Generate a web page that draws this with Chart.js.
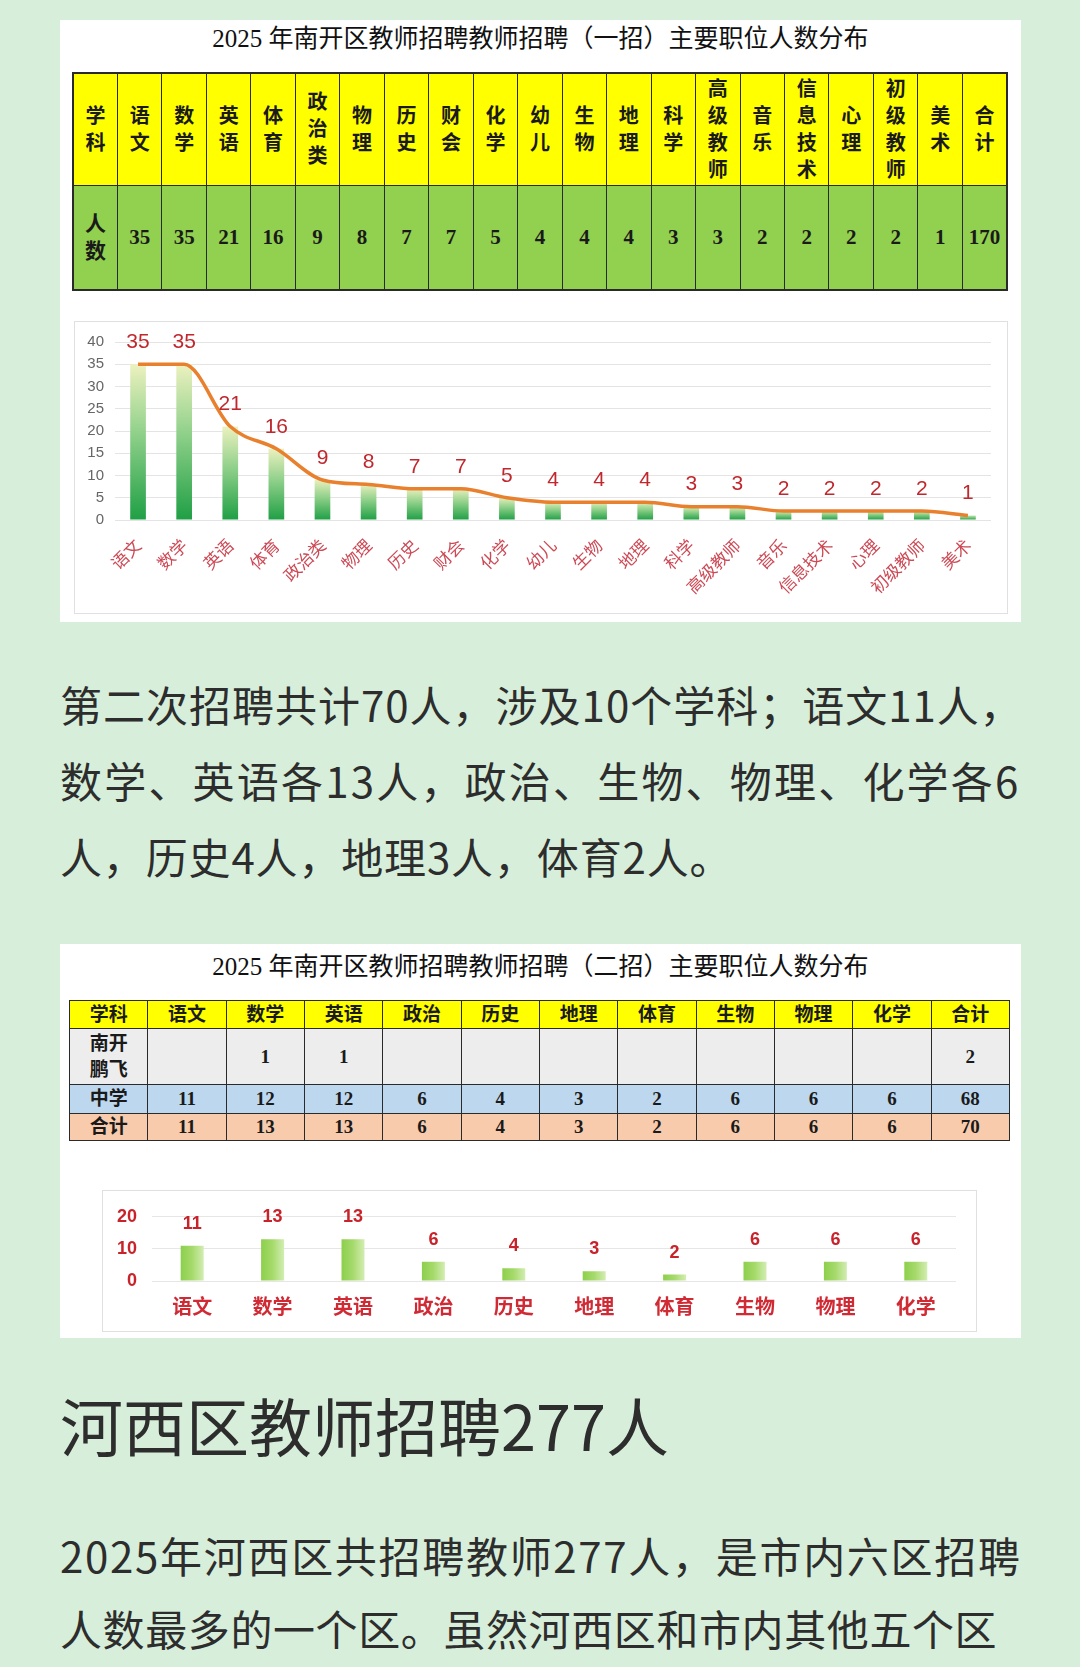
<!DOCTYPE html>
<html lang="zh-CN">
<head>
<meta charset="utf-8">
<title>南开区教师招聘职位分布</title>
<script src="https://cdn.jsdelivr.net/npm/chart.js@4.4.1/dist/chart.umd.min.js"></script>
<style>
  html, body { margin: 0; padding: 0; }
  body {
    width: 1080px; height: 1667px; position: relative; overflow: hidden;
    background: #d7efda; font-family: "Noto Sans CJK SC", sans-serif;
  }
  .panel { position: absolute; left: 60px; width: 961px; background: #fff; }
  .ptitle {
    position: absolute; left: 60px; width: 961px; text-align: center;
    font-family: "Liberation Serif", "Noto Sans CJK SC", serif;
    font-size: 25px; line-height: 30px; color: #111; white-space: nowrap;
  }
  table {
    position: absolute; border-collapse: collapse; table-layout: fixed;
    font-family: "Liberation Serif", "Noto Sans CJK SC", serif;
    font-weight: bold; color: #1a1a1a;
  }
  td { border: 1px solid #2a2a2a; text-align: center; padding: 0; overflow: hidden; }
  #tbl1 { left: 72px; top: 72px; width: 936px; border: 2px solid #2a2a2a; }
  #tbl1 td { font-size: 20px; line-height: 27px; }
  #tbl1 tr.head td { background: #ffff00; height: 111px; }
  #tbl1 tr.num td { background: #92d050; height: 103px; font-size: 21px; }
  #tbl2 { left: 69px; top: 1000px; width: 941px; border: 1.5px solid #2a2a2a; }
  #tbl2 td { font-size: 19px; line-height: 26px; }
  #tbl2 tr.head td { background: #ffff00; height: 27px; }
  #tbl2 tr.pf td { background: #ededed; height: 55px; }
  #tbl2 tr.zx td { background: #bdd7ee; height: 28px; }
  #tbl2 tr.hj td { background: #f8cbad; height: 26px; }
  .chartbox { position: absolute; background: #fff; border: 1px solid #e0e0e0; box-sizing: border-box; }
  .chartbox canvas { position: absolute; left: 0; top: 0; }
  .line {
    position: absolute; left: 60px; color: #2d2d2d; white-space: nowrap;
    font-family: "Noto Sans CJK SC", sans-serif; font-size: 42px; line-height: 76px;
  }
</style>
</head>
<body>

<div class="panel" style="top:20px;height:602px;"></div>
<div class="panel" style="top:944px;height:394px;"></div>

<div class="ptitle" style="top:24px;">2025 年南开区教师招聘教师招聘（一招）主要职位人数分布</div>
<table id="tbl1"></table>

<div class="chartbox" style="left:74px;top:321px;width:934px;height:293px;">
  <canvas id="chart1" width="932" height="291"></canvas>
</div>

<div class="line" style="top:666px;letter-spacing:1px;">第二次招聘共计70人，涉及10个学科；语文11人，</div>
<div class="line" style="top:742px;letter-spacing:2.2px;">数学、英语各13人，政治、生物、物理、化学各6</div>
<div class="line" style="top:818px;letter-spacing:0.85px;">人，历史4人，地理3人，体育2人。</div>

<div class="ptitle" style="top:952px;">2025 年南开区教师招聘教师招聘（二招）主要职位人数分布</div>
<table id="tbl2"></table>

<div class="chartbox" style="left:102px;top:1190px;width:875px;height:142px;">
  <canvas id="chart2" width="873" height="140"></canvas>
</div>

<div class="line" style="top:1384px;font-size:63px;line-height:80px;">河西区教师招聘277人</div>

<div class="line" style="top:1517px;letter-spacing:1.7px;">2025年河西区共招聘教师277人，是市内六区招聘</div>
<div class="line" style="top:1590px;letter-spacing:0.6px;">人数最多的一个区。虽然河西区和市内其他五个区</div>

<script>
// ===== 一招：各学科人数 =====
const subjects1 = ['语文', '数学', '英语', '体育', '政治类', '物理', '历史', '财会', '化学', '幼儿',
                   '生物', '地理', '科学', '高级教师', '音乐', '信息技术', '心理', '初级教师', '美术'];
const counts1 = [35, 35, 21, 16, 9, 8, 7, 7, 5, 4, 4, 4, 3, 3, 2, 2, 2, 2, 1];
const total1 = 170;
const ticks1 = [0, 5, 10, 15, 20, 25, 30, 35, 40];

// ===== 二招：各学科人数 =====
const subjects2 = ['语文', '数学', '英语', '政治', '历史', '地理', '体育', '生物', '物理', '化学'];
const pengfei2 = [null, 1, 1, null, null, null, null, null, null, null];
const pengfeiTotal2 = 2;
const middle2 = [11, 12, 12, 6, 4, 3, 2, 6, 6, 6];
const middleTotal2 = 68;
const counts2 = [11, 13, 13, 6, 4, 3, 2, 6, 6, 6];
const total2 = 70;
const ticks2 = [0, 10, 20];

// ---------- 表格 ----------
function vertical(text) {
    return text.split('').join('<br>');
}

function buildTable1() {
    const tbl = document.getElementById('tbl1');
    const head = ['学科', ...subjects1, '合计'].map(s => `<td>${vertical(s)}</td>`).join('');
    const nums = [vertical('人数'), ...counts1, total1].map(v => `<td>${v}</td>`).join('');
    tbl.innerHTML = `<tr class="head">${head}</tr><tr class="num">${nums}</tr>`;
}

function buildTable2() {
    const tbl = document.getElementById('tbl2');
    const cell = v => `<td>${v == null ? '' : v}</td>`;
    const rows = [
        ['head', ['学科', ...subjects2, '合计']],
        ['pf', ['南开<br>鹏飞', ...pengfei2, pengfeiTotal2]],
        ['zx', ['中学', ...middle2, middleTotal2]],
        ['hj', ['合计', ...counts2, total2]]
    ];
    tbl.innerHTML = rows.map(([cls, vals]) => `<tr class="${cls}">${vals.map(cell).join('')}</tr>`).join('');
}

buildTable1();
buildTable2();

// ---------- 数值标签插件 ----------
const valueLabels = {
    id: 'valueLabels',
    afterDatasetsDraw(chart, args, opts) {
        const ds = chart.data.datasets[opts.datasetIndex];
        const meta = chart.getDatasetMeta(opts.datasetIndex);
        const ctx = chart.ctx;
        ctx.save();
        ctx.font = opts.font;
        ctx.fillStyle = opts.color;
        ctx.textAlign = 'center';
        ctx.textBaseline = 'middle';
        meta.data.forEach((el, i) => {
            ctx.fillText(String(ds.data[i]), el.x, el.y - opts.offset);
        });
        ctx.restore();
    }
};

// 竖向渐变（底部深绿 -> 顶部浅黄绿）
function verticalGradient(context) {
    const chart = context.chart;
    if (!chart.chartArea) return '#4cb050';
    const y = chart.scales.y;
    const top = y.getPixelForValue(context.raw);
    const base = y.getPixelForValue(0);
    const g = chart.ctx.createLinearGradient(0, base, 0, top - 1);
    g.addColorStop(0, '#1f9f45');
    g.addColorStop(0.55, '#8fd08a');
    g.addColorStop(1, '#eef2c0');
    return g;
}

// 横向渐变（左侧绿 -> 右侧浅绿）
function horizontalGradient(barPct) {
    return function (context) {
        const chart = context.chart;
        if (!chart.chartArea) return '#92d050';
        const x = chart.scales.x;
        const cx = x.getPixelForValue(context.dataIndex);
        const w = (x.width / chart.data.labels.length) * barPct;
        const g = chart.ctx.createLinearGradient(cx - w / 2, 0, cx + w / 2, 0);
        g.addColorStop(0, '#8ccf4c');
        g.addColorStop(0.5, '#a6da6c');
        g.addColorStop(1, '#d3edb2');
        return g;
    };
}

// ---------- 图一：柱 + 折线 ----------
const bar1Pct = 0.34;
new Chart(document.getElementById('chart1'), {
    type: 'bar',
    data: {
        labels: subjects1,
        datasets: [
            {
                type: 'line',
                data: counts1,
                borderColor: '#e8802d',
                borderWidth: 3.5,
                cubicInterpolationMode: 'monotone',
                pointRadius: 0,
                fill: false,
                order: 0
            },
            {
                data: counts1,
                backgroundColor: verticalGradient,
                borderWidth: 0,
                categoryPercentage: 1,
                barPercentage: bar1Pct,
                order: 1
            }
        ]
    },
    plugins: [valueLabels],
    options: {
        responsive: false,
        animation: false,
        layout: { padding: { top: 19, right: 16, left: 0, bottom: 0 } },
        plugins: {
            legend: { display: false },
            tooltip: { enabled: false },
            valueLabels: { datasetIndex: 0, offset: 22, color: '#c0282d', font: '21px "Liberation Sans", sans-serif' }
        },
        scales: {
            y: {
                min: 0,
                max: 40,
                afterFit: s => { s.width = 40; },
                afterBuildTicks: s => { s.ticks = ticks1.map(v => ({ value: v })); },
                border: { display: false },
                grid: { color: '#e4e4e4', drawTicks: false, lineWidth: 1 },
                ticks: { color: '#666666', padding: 11, font: { size: 15, family: 'Liberation Sans' } }
            },
            x: {
                afterFit: s => { s.height = 93; },
                border: { display: false },
                grid: { display: false, drawTicks: false },
                ticks: {
                    color: '#cc4a56',
                    autoSkip: false,
                    maxRotation: 45,
                    minRotation: 45,
                    padding: 15,
                    font: { size: 17, family: 'Noto Sans CJK SC' }
                }
            }
        }
    }
});

// ---------- 图二：柱 ----------
const bar2Pct = 0.286;
new Chart(document.getElementById('chart2'), {
    type: 'bar',
    data: {
        labels: subjects2,
        datasets: [{
            data: counts2,
            backgroundColor: horizontalGradient(bar2Pct),
            borderWidth: 0,
            categoryPercentage: 1,
            barPercentage: bar2Pct
        }]
    },
    plugins: [valueLabels],
    options: {
        responsive: false,
        animation: false,
        layout: { padding: { top: 21, right: 20, left: 0, bottom: 0 } },
        plugins: {
            legend: { display: false },
            tooltip: { enabled: false },
            valueLabels: { datasetIndex: 0, offset: 22, color: '#c8232b', font: 'bold 18px "Liberation Sans", sans-serif' }
        },
        scales: {
            y: {
                min: 0,
                max: 20,
                afterFit: s => { s.width = 49; },
                afterBuildTicks: s => { s.ticks = ticks2.map(v => ({ value: v })); },
                border: { display: false },
                grid: { color: '#e6e6e6', drawTicks: false },
                ticks: { color: '#c8232b', padding: 15, font: { size: 18, weight: 'bold', family: 'Liberation Sans' } }
            },
            x: {
                afterFit: s => { s.height = 50; },
                border: { display: false },
                grid: { display: false, drawTicks: false },
                ticks: {
                    color: '#d02a34',
                    padding: 13,
                    maxRotation: 0,
                    autoSkip: false,
                    font: { size: 20, weight: 'bold', family: 'Noto Sans CJK SC' }
                }
            }
        }
    }
});
</script>
</body>
</html>
